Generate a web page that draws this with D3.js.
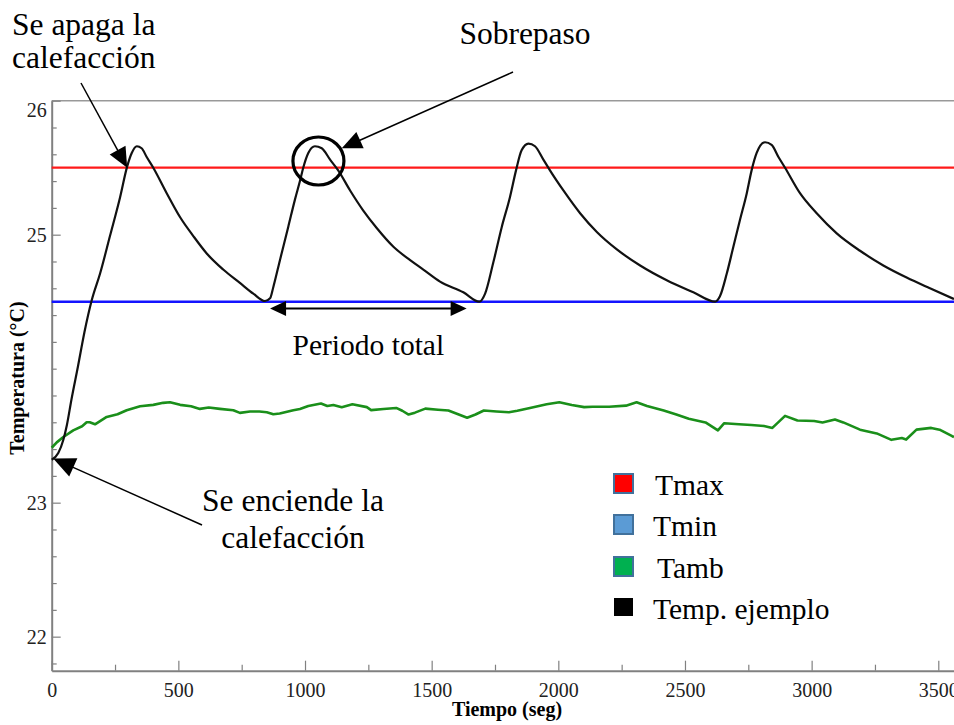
<!DOCTYPE html>
<html>
<head>
<meta charset="utf-8">
<script src="https://cdn.jsdelivr.net/npm/d3@7"></script>
<style>
  body { margin: 0; background: #fff; }
  svg { display: block; }
  text { font-family: "Liberation Serif", "Times New Roman", serif; }
</style>
</head>
<body>
<svg id="chart" width="954" height="725"></svg>
<script>
// ---- Data ----
const timeMajorTicks = [0, 500, 1000, 1500, 2000, 2500, 3000, 3500];
const timeMinorTicks = [250, 750, 1250, 1750, 2250, 2750, 3250];
const tempLabelTicks = [22, 23, 25, 26];
const tempDomain = [21.746, 26];
const timeDomain = [0, 3562];

const tMax = 25.5;   // consigna superior
const tMin = 24.5;   // consigna inferior

// Temperatura de ejemplo [tiempo (s), temperatura (°C)]
const tempEjemplo = [
  [0, 23.32], [26, 23.37], [46, 23.47], [60, 23.58], [78, 23.77], [104, 24.02],
  [129, 24.27], [158, 24.51], [191, 24.71], [230, 24.99], [270, 25.28], [298, 25.51],
  [316, 25.61], [336, 25.66], [355, 25.645], [375, 25.58], [401, 25.50], [454, 25.31],
  [507, 25.13], [559, 24.99], [612, 24.86], [677, 24.74], [743, 24.64], [796, 24.56],
  [842, 24.505], [862, 24.525], [875, 24.61], [901, 24.81], [934, 25.06], [960, 25.26],
  [980, 25.40], [993, 25.50], [1013, 25.61], [1039, 25.66], [1066, 25.645], [1099, 25.56],
  [1131, 25.48], [1178, 25.33], [1230, 25.18], [1283, 25.05], [1349, 24.91], [1415, 24.81],
  [1467, 24.74], [1533, 24.65], [1625, 24.57], [1688, 24.50], [1711, 24.56], [1743, 24.79],
  [1777, 25.06], [1809, 25.28], [1833, 25.48], [1855, 25.63], [1882, 25.68], [1908, 25.66],
  [1941, 25.56], [1967, 25.48], [2020, 25.33], [2086, 25.16], [2152, 25.02], [2231, 24.89],
  [2323, 24.77], [2428, 24.66], [2533, 24.57], [2619, 24.50], [2638, 24.54], [2665, 24.71],
  [2691, 24.91], [2717, 25.11], [2744, 25.31], [2763, 25.48], [2783, 25.61], [2816, 25.69],
  [2842, 25.67], [2869, 25.58], [2895, 25.50], [2954, 25.31], [3020, 25.16], [3099, 25.01],
  [3191, 24.88], [3283, 24.77], [3375, 24.68], [3467, 24.60], [3562, 24.52]
];

// Temperatura ambiente [tiempo (s), temperatura (°C)]
const tempAmbiente = [
  [0, 23.41], [20, 23.45], [46, 23.49], [85, 23.54], [120, 23.57], [138, 23.60],
  [150, 23.60], [171, 23.585], [217, 23.64], [260, 23.66], [296, 23.69], [349, 23.72],
  [401, 23.73], [440, 23.745], [467, 23.75], [507, 23.73], [550, 23.72], [585, 23.70],
  [620, 23.71], [664, 23.70], [717, 23.69], [743, 23.67], [783, 23.68], [820, 23.68],
  [849, 23.675], [875, 23.66], [900, 23.665], [954, 23.69], [980, 23.699], [1013, 23.721],
  [1063, 23.74], [1088, 23.721], [1112, 23.729], [1145, 23.713], [1187, 23.734], [1244, 23.713],
  [1261, 23.691], [1310, 23.699], [1360, 23.707], [1384, 23.686], [1409, 23.658], [1434, 23.672],
  [1475, 23.702], [1525, 23.694], [1566, 23.688], [1607, 23.658], [1640, 23.634], [1673, 23.658],
  [1706, 23.688], [1756, 23.681], [1805, 23.675], [1838, 23.686], [1888, 23.707], [1954, 23.734],
  [2004, 23.749], [2053, 23.729], [2102, 23.713], [2135, 23.716], [2201, 23.716], [2267, 23.724],
  [2309, 23.749], [2350, 23.721], [2416, 23.688], [2466, 23.658], [2515, 23.626], [2581, 23.599],
  [2630, 23.539], [2655, 23.593], [2713, 23.585], [2762, 23.58], [2812, 23.572], [2845, 23.558],
  [2895, 23.648], [2944, 23.613], [3010, 23.61], [3043, 23.599], [3092, 23.62], [3125, 23.599],
  [3191, 23.545], [3257, 23.517], [3315, 23.469], [3356, 23.482], [3373, 23.471], [3414, 23.545],
  [3472, 23.558], [3505, 23.545], [3555, 23.496], [3562, 23.49]
];

const legendLabels = ["Tmax", "Tmin", "Tamb", "Temp. ejemplo"];
const legendFills = ["#ff0000", "#5b9bd5", "#00b050", "#000000"];
const legendBorders = ["#41719c", "#41719c", "#41719c", "none"];

// Puntos señalados en las anotaciones [tiempo, temperatura]
const puntoApagado = [298, 25.5];
const puntoEncendido = [6, 23.33];
const puntoSobrepaso = [1053, 25.55];
const flechaSobrepaso = [1145, 25.645];
const periodoInicio = [862, 24.45];
const periodoFin = [1638, 24.45];

// ---- Chart ----
const svg = d3.select("#chart");
svg.append("rect").attr("width", 954).attr("height", 725).attr("fill", "#fff");

const x = d3.scaleLinear().domain(timeDomain).range([51.7, 954]);
const y = d3.scaleLinear().domain(tempDomain).range([670.7, 100.7]);

const axisColor = "#808080";
const serif = '"Liberation Serif", "Times New Roman", serif';

// Top frame line
svg.append("line")
  .attr("x1", x(timeDomain[0])).attr("x2", x(timeDomain[1]))
  .attr("y1", y(tempDomain[1])).attr("y2", y(tempDomain[1]))
  .attr("stroke", "#999").attr("stroke-width", 1.5);

// X axis (minor ticks, then major ticks with labels)
const gxMinor = svg.append("g").attr("transform", `translate(0,${y(tempDomain[0])})`)
  .call(d3.axisBottom(x).tickValues(timeMinorTicks).tickSize(-6).tickSizeOuter(0).tickFormat(""));
const gx = svg.append("g").attr("transform", `translate(0,${y(tempDomain[0])})`)
  .call(d3.axisBottom(x).tickValues(timeMajorTicks).tickSize(-10).tickSizeOuter(0).tickPadding(12)
    .tickFormat(d3.format("d")));

// Y axis
const minorY = d3.range(21.8, 26.001, 0.2).map(v => +v.toFixed(1)).filter(v => !tempLabelTicks.includes(v));
const gyMinor = svg.append("g").attr("transform", `translate(${x(0)},0)`)
  .call(d3.axisLeft(y).tickValues(minorY).tickSize(-5).tickSizeOuter(0).tickFormat(""));
const gy = svg.append("g").attr("transform", `translate(${x(0)},0)`)
  .call(d3.axisLeft(y).tickValues(tempLabelTicks).tickSize(-9).tickSizeOuter(0).tickPadding(5)
    .tickFormat(d3.format("d")));

[gxMinor, gx, gyMinor, gy].forEach(g => {
  g.select(".domain").attr("stroke", axisColor).attr("stroke-width", 2);
  g.selectAll(".tick line").attr("stroke", axisColor).attr("stroke-width", 1.2);
  g.selectAll(".tick text").attr("fill", "#222").attr("font-size", 20).attr("font-family", serif);
});
gyMinor.select(".domain").remove();
gxMinor.select(".domain").remove();
// top label sits just inside the frame
gy.selectAll(".tick text").filter(d => d === 26).attr("dy", "0.8em");

// Axis titles
svg.append("text")
  .attr("x", 507).attr("y", 716)
  .attr("text-anchor", "middle").attr("font-weight", "bold").attr("font-size", 20)
  .text("Tiempo (seg)");
svg.append("text")
  .attr("transform", "translate(24,378) rotate(-90)")
  .attr("text-anchor", "middle").attr("font-weight", "bold").attr("font-size", 20)
  .text("Temperatura (°C)");

// Set-point lines
svg.append("line")
  .attr("x1", x(timeDomain[0])).attr("x2", x(timeDomain[1]))
  .attr("y1", y(tMax)).attr("y2", y(tMax))
  .attr("stroke", "#ff1a1a").attr("stroke-width", 2.2);
svg.append("line")
  .attr("x1", x(timeDomain[0])).attr("x2", x(timeDomain[1]))
  .attr("y1", y(tMin)).attr("y2", y(tMin))
  .attr("stroke", "#1414ff").attr("stroke-width", 2.5);

// Ambient temperature
svg.append("path")
  .datum(tempAmbiente)
  .attr("fill", "none").attr("stroke", "#1a8f1a").attr("stroke-width", 2.6)
  .attr("stroke-linejoin", "round")
  .attr("d", d3.line().x(d => x(d[0])).y(d => y(d[1])));

// Example temperature
svg.append("path")
  .datum(tempEjemplo)
  .attr("fill", "none").attr("stroke", "#111").attr("stroke-width", 2.2)
  .attr("stroke-linejoin", "round")
  .attr("d", d3.line().x(d => x(d[0])).y(d => y(d[1])).curve(d3.curveMonotoneX));

// ---- Annotations ----
function arrow(x1, y1, x2, y2, headLen, headHalf, width) {
  const dx = x2 - x1, dy = y2 - y1;
  const L = Math.hypot(dx, dy);
  const ux = dx / L, uy = dy / L;
  const bx = x2 - ux * headLen, by = y2 - uy * headLen;
  svg.append("line")
    .attr("x1", x1).attr("y1", y1).attr("x2", bx + ux * 2).attr("y2", by + uy * 2)
    .attr("stroke", "#000").attr("stroke-width", width || 1.6);
  svg.append("path")
    .attr("d", `M${x2},${y2}L${bx - uy * headHalf},${by + ux * headHalf}L${bx + uy * headHalf},${by - ux * headHalf}Z`)
    .attr("fill", "#000");
}

const annFont = 31.5;

// Se apaga la calefacción
svg.append("text").attr("x", 12).attr("y", 35).attr("font-size", annFont).text("Se apaga la");
svg.append("text").attr("x", 12).attr("y", 68).attr("font-size", annFont).text("calefacción");
arrow(81, 83, x(puntoApagado[0]), y(puntoApagado[1]), 20, 9, 1.5);

// Sobrepaso
svg.append("text").attr("x", 525).attr("y", 44).attr("font-size", annFont)
  .attr("text-anchor", "middle").text("Sobrepaso");
arrow(513, 72, x(flechaSobrepaso[0]), y(flechaSobrepaso[1]), 20, 9, 1.5);
svg.append("ellipse")
  .attr("cx", x(puntoSobrepaso[0])).attr("cy", y(puntoSobrepaso[1]))
  .attr("rx", 25.5).attr("ry", 24)
  .attr("fill", "none").attr("stroke", "#000").attr("stroke-width", 3.2);

// Periodo total
const py = y(periodoInicio[1]);
const pxa = x(periodoInicio[0]), pxb = x(periodoFin[0]);
svg.append("line").attr("x1", pxa + 14).attr("x2", pxb - 14).attr("y1", py).attr("y2", py)
  .attr("stroke", "#000").attr("stroke-width", 2);
svg.append("path").attr("d", `M${pxa},${py}L${pxa + 16},${py - 7.5}L${pxa + 16},${py + 7.5}Z`).attr("fill", "#000");
svg.append("path").attr("d", `M${pxb},${py}L${pxb - 16},${py - 7.5}L${pxb - 16},${py + 7.5}Z`).attr("fill", "#000");
svg.append("text").attr("x", (pxa + pxb) / 2).attr("y", 355).attr("font-size", 29.5)
  .attr("text-anchor", "middle").text("Periodo total");

// Se enciende la calefacción
svg.append("text").attr("x", 293).attr("y", 511).attr("font-size", annFont)
  .attr("text-anchor", "middle").text("Se enciende la");
svg.append("text").attr("x", 293).attr("y", 548).attr("font-size", annFont)
  .attr("text-anchor", "middle").text("calefacción");
arrow(202, 525, x(puntoEncendido[0]), y(puntoEncendido[1]), 22, 10, 1.5);

// ---- Legend ----
const legend = svg.append("g");
const legendRows = [484, 525, 567, 608];
const legendTextX = [655, 653, 657, 653];
legendLabels.forEach((label, i) => {
  const cy = legendRows[i];
  legend.append("rect")
    .attr("x", 614).attr("y", cy - 10).attr("width", 19).attr("height", i === 3 ? 18 : 19)
    .attr("fill", legendFills[i])
    .attr("stroke", legendBorders[i]).attr("stroke-width", legendBorders[i] === "none" ? 0 : 2);
  legend.append("text")
    .attr("x", legendTextX[i]).attr("y", cy + 11)
    .attr("font-size", 29.5).attr("fill", "#000")
    .text(label);
});
</script>
</body>
</html>
